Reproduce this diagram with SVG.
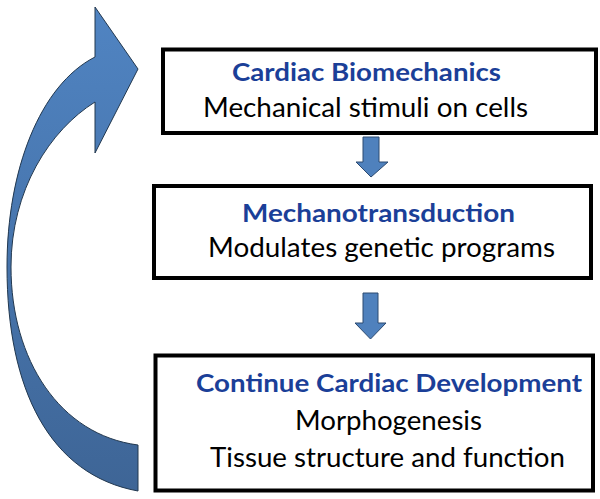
<svg xmlns="http://www.w3.org/2000/svg" width="600" height="499" viewBox="0 0 600 499">
<defs>
<linearGradient id="curveGrad" x1="0" y1="0" x2="0" y2="1">
<stop offset="0" stop-color="#5084c2"/>
<stop offset="0.5" stop-color="#4775ad"/>
<stop offset="1" stop-color="#3e6596"/>
</linearGradient>
</defs>
<style>
.box{fill:#ffffff;stroke:#000000;stroke-width:4}
.head{font-family:Lato,"Liberation Sans",sans-serif;font-weight:bold;font-size:24px;fill:#1b3f98}
.body{font-family:Lato,"Liberation Sans",sans-serif;font-size:27px;fill:#000000}
.arrow{fill:#4f81bd;stroke:#2c4a70;stroke-width:1}
</style>
<rect width="600" height="499" fill="#ffffff"/>
<g id="connectors">
<path id="loop-arrow" fill="url(#curveGrad)" stroke="#22384f" stroke-width="1" d="M138,491 C50,475 7,390 7,267 C7,170 40,85 95,57 L95,7 L138,69 L95,153 L95,102 C50,130 11,190 11,267 C11,360 60,435 138,445 Z"/>
<path id="arrow1" class="arrow" d="M363,137 L379,137 L379,162 L388,162 L371,177 L356,162 L363,162 Z"/>
<path id="arrow2" class="arrow" d="M363,293 L378,293 L378,323 L386,323 L370.5,339 L355,323 L363,323 Z"/>
</g>
<g id="node-biomechanics">
<rect class="box" x="163" y="49.5" width="433" height="83.5"/>
<text class="head" x="232" y="81" textLength="269" lengthAdjust="spacingAndGlyphs">Cardiac Biomechanics</text>
<text class="body" x="203" y="117" textLength="325" lengthAdjust="spacingAndGlyphs">Mechanical stimuli on cells</text>
</g>
<g id="node-mechanotransduction">
<rect class="box" x="154" y="186" width="437" height="92"/>
<text class="head" x="242" y="222" textLength="273" lengthAdjust="spacingAndGlyphs">Mechanotransduction</text>
<text class="body" x="208" y="257" textLength="347" lengthAdjust="spacingAndGlyphs">Modulates genetic programs</text>
</g>
<g id="node-development">
<rect class="box" x="155.5" y="355.5" width="437.5" height="135"/>
<text class="head" x="196" y="392" textLength="386" lengthAdjust="spacingAndGlyphs">Continue Cardiac Development</text>
<text class="body" x="295" y="430" textLength="187" lengthAdjust="spacingAndGlyphs">Morphogenesis</text>
<text class="body" x="210" y="467" textLength="355" lengthAdjust="spacingAndGlyphs">Tissue structure and function</text>
</g>
</svg>
